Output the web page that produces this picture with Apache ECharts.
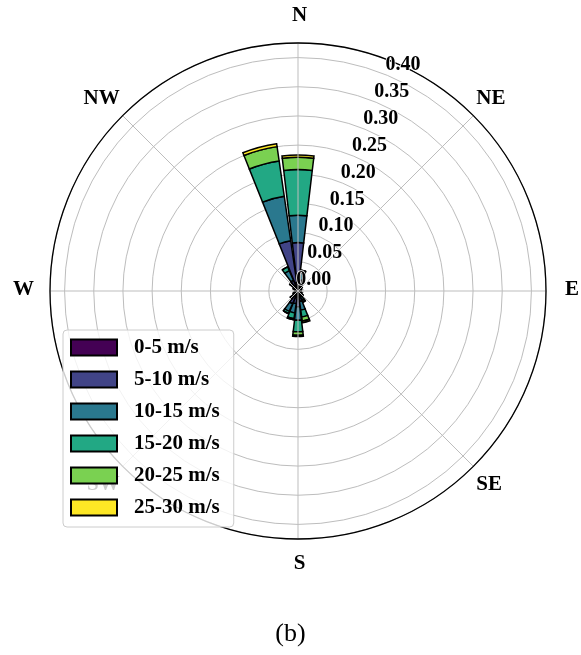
<!DOCTYPE html>
<html><head><meta charset="utf-8">
<script src="https://cdn.jsdelivr.net/npm/echarts@6/dist/echarts.min.js"></script>
<style>html,body{margin:0;padding:0;background:#fff}#c{width:581px;height:655px}</style>
</head><body><div id="c"></div>
<script>
// 24 direction bins (15° each), starting at North, clockwise
const directions = ['0','15','30','45','60','75','90','105','120','135','150','165',
                    '180','195','210','225','240','255','270','285','300','315','330','345'];
const compassLabels = ['N','NE','E','SE','S','SW','W','NW'];
const speedBins = ['0-5 m/s','5-10 m/s','10-15 m/s','15-20 m/s','20-25 m/s','25-30 m/s'];
const radialTicks = [0.00,0.05,0.10,0.15,0.20,0.25,0.30,0.35,0.40];

// frequency per direction for each speed bin
const s0_5   = [0.015,0.006,0.004,0.003,0.002,0.002,0.002,0.002,0.002,0.003,0.004,0.006,
                0.008,0.006,0.006,0.004,0.003,0.002,0.002,0.002,0.003,0.004,0.005,0.015];
const s5_10  = [0.068,0.013,0.006,0.004,0.003,0.002,0.002,0.002,0.003,0.004,0.007,0.012,
                0.019,0.016,0.018,0.008,0.004,0.003,0.002,0.002,0.004,0.008,0.015,0.072];
const s10_15 = [0.047,0.012,0.003,0.002,0.001,0.001,0.001,0.001,0.002,0.003,0.006,0.015,
                0.023,0.016,0.014,0.004,0.002,0.001,0.001,0.001,0.002,0.005,0.018,0.077];
const s15_20 = [0.078,0.005,0.000,0.000,0.000,0.000,0.000,0.000,0.000,0.001,0.003,0.012,
                0.020,0.010,0.004,0.001,0.000,0.000,0.000,0.000,0.000,0.001,0.007,0.061];
const s20_25 = [0.021,0.000,0.000,0.000,0.000,0.000,0.000,0.000,0.000,0.000,0.001,0.007,
                0.006,0.002,0.000,0.000,0.000,0.000,0.000,0.000,0.000,0.000,0.000,0.025];
const s25_30 = [0.004,0.000,0.000,0.000,0.000,0.000,0.000,0.000,0.000,0.000,0.000,0.003,
                0.002,0.000,0.000,0.000,0.000,0.000,0.000,0.000,0.000,0.000,0.000,0.005];
const binValues = [s0_5, s5_10, s10_15, s15_20, s20_25, s25_30];
const colors = ['#440154','#414487','#2a788e','#22a884','#7ad151','#fde725'];

const CX = 298, CY = 291, R = 248, RMAX = 0.425;
const serif = "'Liberation Serif','Times New Roman',serif";
const dirStyle = {fontFamily: serif, fontSize: 21, fontWeight: 'bold', color: '#000'};

const chart = echarts.init(document.getElementById('c'));
chart.setOption({
  animation: false,
  backgroundColor: '#fff',
  title: {
    text: '(b)', left: 'center', top: 616,
    textStyle: {fontFamily: serif, fontSize: 26, fontWeight: 'normal', color: '#000'}
  },
  polar: [
    {center: [CX, CY], radius: R},
    {center: [CX, CY], radius: R},
    {center: [CX, CY], radius: R}
  ],
  angleAxis: [
    {
      polarIndex: 0, type: 'value', min: 0, max: 360, interval: 45,
      startAngle: 90, clockwise: true, z: 3,
      axisLine: {show: true, lineStyle: {color: '#000', width: 1.3}},
      axisTick: {show: false},
      axisLabel: {
        margin: 0,
        formatter: function (v) {
          const i = Math.round(v / 45);
          const t = compassLabels[i];
          if (!t || v >= 360) return '';
          return i % 2 === 0 ? '{c|' + t + '}' : '{d|' + t + '}';
        },
        rich: {
          c: Object.assign({padding: [14, 16, 17, 19]}, dirStyle),
          d: Object.assign({padding: [8, 3, 7, 3]}, dirStyle)
        }
      },
      splitLine: {show: true, lineStyle: {color: '#bdbdbd', width: 1}}
    },
    {
      polarIndex: 1, type: 'category', data: directions,
      startAngle: 97.5, clockwise: true,
      axisLine: {show: false}, axisTick: {show: false},
      axisLabel: {show: false}, splitLine: {show: false}
    },
    {
      polarIndex: 2, type: 'value', min: 0, max: 360, startAngle: 67.5, clockwise: true,
      axisLine: {show: false}, axisTick: {show: false},
      axisLabel: {show: false}, splitLine: {show: false}
    }
  ],
  radiusAxis: [
    {
      polarIndex: 0, type: 'value', min: 0, max: RMAX, interval: 0.05,
      axisLine: {show: false}, axisTick: {show: false}, axisLabel: {show: false},
      splitLine: {show: true, lineStyle: {color: '#bdbdbd', width: 1}}
    },
    {
      polarIndex: 1, type: 'value', min: 0, max: RMAX,
      axisLine: {show: false}, axisTick: {show: false}, axisLabel: {show: false},
      splitLine: {show: false}
    },
    {
      polarIndex: 2, type: 'value', min: 0, max: RMAX, interval: 0.05, z: 10,
      axisLine: {show: false}, axisTick: {show: false}, splitLine: {show: false},
      axisLabel: {
        margin: 2, align: 'left', verticalAlign: 'bottom',
        fontFamily: serif, fontSize: 20, fontWeight: 'bold', color: '#000',
        textBorderColor: '#fff', textBorderWidth: 1.5,
        formatter: function (v) {
          const hit = radialTicks.find(t => Math.abs(t - v) < 1e-6);
          return hit === undefined ? '' : hit.toFixed(2);
        }
      }
    }
  ],
  legend: {
    orient: 'vertical', left: 63, top: 330,
    data: speedBins, icon: 'rect',
    itemWidth: 46, itemHeight: 16, itemGap: 11,
    padding: [7, 14, 9, 7],
    backgroundColor: 'rgba(255,255,255,0.8)',
    borderColor: '#cccccc', borderWidth: 1, borderRadius: 4,
    textStyle: {fontFamily: serif, fontSize: 21, fontWeight: 'bold', color: '#000',
                lineHeight: 21, padding: [0, 0, 0, 12]}
  },
  series: speedBins.map((name, k) => ({
    type: 'bar', name: name, coordinateSystem: 'polar', polarIndex: 1,
    stack: 'wind', data: binValues[k], barCategoryGap: '10%',
    itemStyle: {color: colors[k], borderColor: '#000', borderWidth: 1.5}
  }))
});
</script></body></html>
